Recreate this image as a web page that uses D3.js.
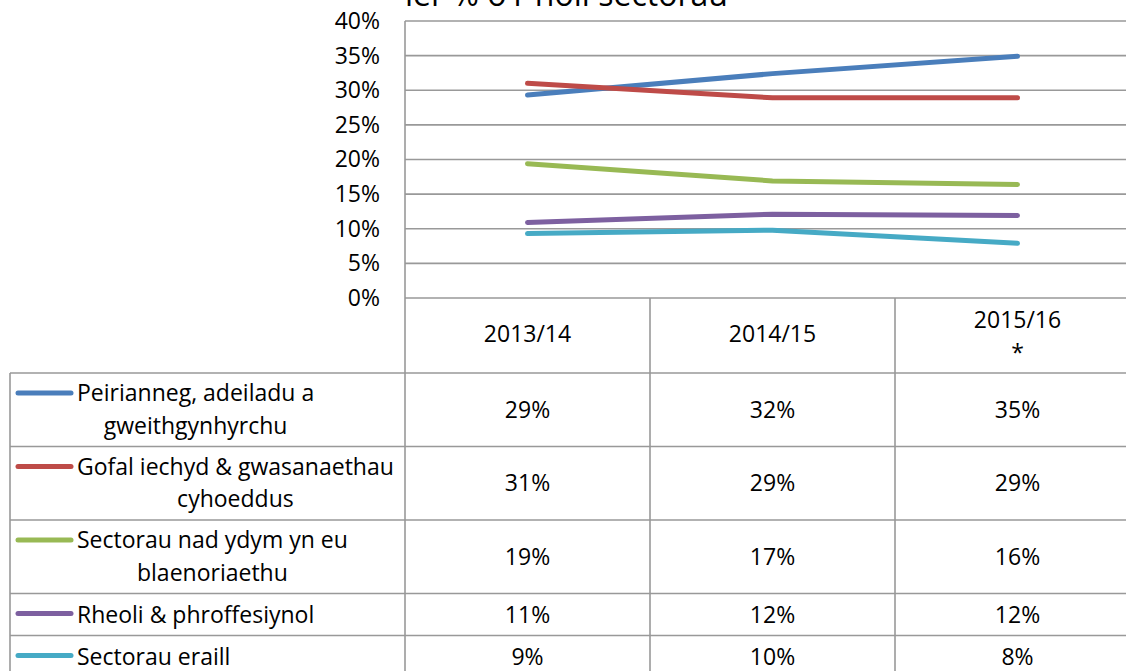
<!DOCTYPE html>
<html><head><meta charset="utf-8">
<script src="https://cdn.jsdelivr.net/npm/d3@7"></script>
<style>html,body{margin:0;padding:0;background:#fff;overflow:hidden}</style>
</head><body>
<svg id="c" width="1126" height="671"></svg>
<script>
const title = "ler % o'r holl sectorau";
const categories = ["2013/14", "2014/15", "2015/16\n*"];
const seriesNames = [
  "Peirianneg, adeiladu a\ngweithgynhyrchu",
  "Gofal iechyd & gwasanaethau\ncyhoeddus",
  "Sectorau nad ydym yn eu\nblaenoriaethu",
  "Rheoli & phroffesiynol",
  "Sectorau eraill"
];
const peirianneg = [29.3, 32.4, 34.9];
const gofal = [31.0, 28.9, 28.9];
const sectorauNad = [19.4, 16.9, 16.4];
const rheoli = [10.9, 12.1, 11.9];
const sectorauEraill = [9.3, 9.8, 7.9];
const yTicks = [0, 5, 10, 15, 20, 25, 30, 35, 40];
const colors = ["#4a7ebb", "#be4b48", "#98b954", "#7d60a0", "#46aac5"];
const seriesValues = [peirianneg, gofal, sectorauNad, rheoli, sectorauEraill];

const svg = d3.select("#c");
const FONT = "Open Sans", FS = 23;
const plotL = 405, colW = 245, plotTop = 21, plotBot = 298;
const tableLeft = 10, W = 1126;
const gridCol = "#999999";

const x = d3.scaleBand().domain(categories).range([plotL, plotL + colW * categories.length]);
const y = d3.scaleLinear().domain([0, 40]).range([plotBot, plotTop]);

// title (cut off at the top, as in the source)
svg.append("text").attr("x", 405).attr("y", 6).attr("font-family", FONT)
  .attr("font-size", 32).attr("fill", "#000").text(title);

// axis + gridlines
const yAxis = d3.axisLeft(y).tickValues(yTicks).tickSize(0).tickPadding(25).tickFormat(d => d + "%");
const gAxis = svg.append("g").attr("transform", `translate(${plotL},0)`).call(yAxis);
gAxis.select(".domain").remove();
gAxis.selectAll("text").attr("font-family", FONT).attr("font-size", FS).attr("fill", "#000");
svg.append("g").selectAll("line").data(yTicks).join("line")
  .attr("x1", plotL).attr("x2", W).attr("y1", d => y(d)).attr("y2", d => y(d))
  .attr("stroke", gridCol).attr("stroke-width", 1.6);
svg.append("line").attr("x1", plotL).attr("x2", plotL).attr("y1", plotTop).attr("y2", 680)
  .attr("stroke", gridCol).attr("stroke-width", 1.6);

// table geometry
const headerBot = 373;
const rowH = seriesNames.map(n => n.split("\n").length === 2 ? 73.5 : 42);
const rowTops = [];
let acc = headerBot;
rowH.forEach(h => { rowTops.push(acc); acc += h; });

// column dividers
svg.append("g").selectAll("line").data(categories.slice(1)).join("line")
  .attr("x1", d => x(d)).attr("x2", d => x(d)).attr("y1", plotBot).attr("y2", 680)
  .attr("stroke", gridCol).attr("stroke-width", 1.6);
// row lines
svg.append("g").selectAll("line").data(rowTops).join("line")
  .attr("x1", tableLeft).attr("x2", W).attr("y1", d => d).attr("y2", d => d)
  .attr("stroke", gridCol).attr("stroke-width", 1.6);
svg.append("line").attr("x1", tableLeft).attr("x2", tableLeft).attr("y1", headerBot).attr("y2", 680)
  .attr("stroke", gridCol).attr("stroke-width", 1.6);

// header labels
const hdr = svg.append("g");
categories.forEach(c => {
  const lines = c.split("\n");
  const cx = x(c) + x.bandwidth() / 2;
  const t = hdr.append("text").attr("text-anchor", "middle").attr("font-family", FONT)
    .attr("font-size", FS).attr("fill", "#000");
  if (lines.length === 1) {
    t.append("tspan").attr("x", cx).attr("y", 342).text(lines[0]);
  } else {
    t.append("tspan").attr("x", cx).attr("y", 328).text(lines[0]);
    t.append("tspan").attr("x", cx).attr("y", 361).text(lines[1]);
  }
});

// lines
const line = d3.line().x((d, i) => x(categories[i]) + x.bandwidth() / 2).y(d => y(d));
svg.append("g").selectAll("path").data(seriesValues).join("path")
  .attr("d", d => line(d)).attr("fill", "none")
  .attr("stroke", (d, i) => colors[i]).attr("stroke-width", 5)
  .attr("stroke-linecap", "round").attr("stroke-linejoin", "round");

// table rows
const fmt = v => Math.round(v) + "%";
seriesNames.forEach((name, i) => {
  const top = rowTops[i];
  const lines = name.split("\n");
  const g = svg.append("g");
  const legY = top + 20;
  g.append("line").attr("x1", 18).attr("x2", 71).attr("y1", legY).attr("y2", legY)
    .attr("stroke", colors[i]).attr("stroke-width", 5).attr("stroke-linecap", "round");
  const texts = lines.map((l, k) => g.append("text").attr("font-family", FONT)
    .attr("font-size", FS).attr("fill", "#000")
    .attr("y", lines.length === 1 ? top + 29 : top + 28 + k * 32.5).text(l));
  const widths = texts.map(t => t.node().getComputedTextLength());
  const wmax = Math.max(...widths);
  texts.forEach((t, k) => t.attr("x", 77 + (wmax - widths[k]) / 2));
  const cy = top + rowH[i] / 2 + 8;
  seriesValues[i].forEach((v, j) => {
    g.append("text").attr("x", x(categories[j]) + x.bandwidth() / 2).attr("y", cy)
      .attr("text-anchor", "middle").attr("font-family", FONT).attr("font-size", FS)
      .attr("fill", "#000").text(fmt(v));
  });
});
</script>
</body></html>
